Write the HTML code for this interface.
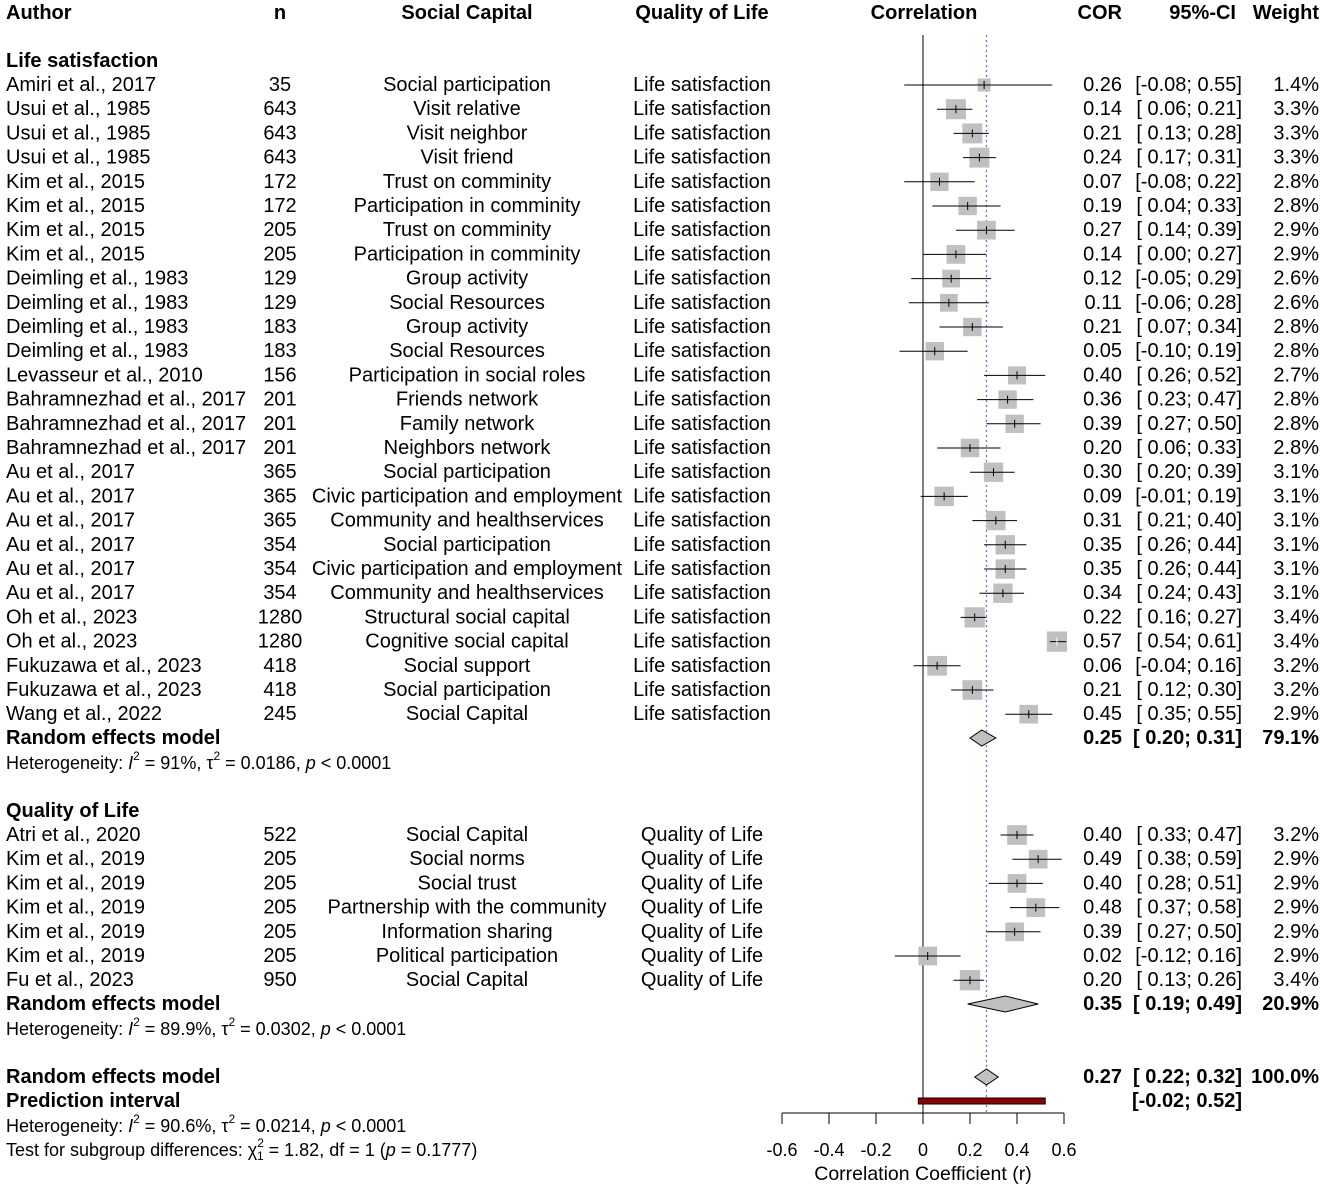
<!DOCTYPE html>
<html><head><meta charset="utf-8"><style>
body{margin:0;background:#fff;}
svg{display:block;font-family:"Liberation Sans",Arial,sans-serif;}
</style></head><body>
<svg id="plot" width="1325" height="1191" viewBox="0 0 1325 1191" xmlns="http://www.w3.org/2000/svg"></svg>
<script>
const authors1=["Amiri et al., 2017","Usui et al., 1985","Usui et al., 1985","Usui et al., 1985","Kim et al., 2015","Kim et al., 2015","Kim et al., 2015","Kim et al., 2015","Deimling et al., 1983","Deimling et al., 1983","Deimling et al., 1983","Deimling et al., 1983","Levasseur et al., 2010","Bahramnezhad et al., 2017","Bahramnezhad et al., 2017","Bahramnezhad et al., 2017","Au et al., 2017","Au et al., 2017","Au et al., 2017","Au et al., 2017","Au et al., 2017","Au et al., 2017","Oh et al., 2023","Oh et al., 2023","Fukuzawa et al., 2023","Fukuzawa et al., 2023","Wang  et al., 2022"];
const n1=[35,643,643,643,172,172,205,205,129,129,183,183,156,201,201,201,365,365,365,354,354,354,1280,1280,418,418,245];
const sc1=["Social participation","Visit relative","Visit neighbor","Visit friend","Trust on comminity","Participation in comminity","Trust on comminity","Participation in comminity","Group activity","Social Resources","Group activity","Social Resources","Participation in social roles","Friends network","Family network","Neighbors network","Social participation","Civic participation and employment","Community and healthservices","Social participation","Civic participation and employment","Community and healthservices","Structural social capital","Cognitive social capital","Social support","Social participation","Social Capital"];
const cor1=[0.26,0.14,0.21,0.24,0.07,0.19,0.27,0.14,0.12,0.11,0.21,0.05,0.40,0.36,0.39,0.20,0.30,0.09,0.31,0.35,0.35,0.34,0.22,0.57,0.06,0.21,0.45];
const lo1=[-0.08,0.06,0.13,0.17,-0.08,0.04,0.14,0.00,-0.05,-0.06,0.07,-0.10,0.26,0.23,0.27,0.06,0.20,-0.01,0.21,0.26,0.26,0.24,0.16,0.54,-0.04,0.12,0.35];
const hi1=[0.55,0.21,0.28,0.31,0.22,0.33,0.39,0.27,0.29,0.28,0.34,0.19,0.52,0.47,0.50,0.33,0.39,0.19,0.40,0.44,0.44,0.43,0.27,0.61,0.16,0.30,0.55];
const w1=[1.4,3.3,3.3,3.3,2.8,2.8,2.9,2.9,2.6,2.6,2.8,2.8,2.7,2.8,2.8,2.8,3.1,3.1,3.1,3.1,3.1,3.1,3.4,3.4,3.2,3.2,2.9];
const authors2=["Atri et al., 2020","Kim et al., 2019","Kim et al., 2019","Kim et al., 2019","Kim et al., 2019","Kim et al., 2019","Fu et al., 2023"];
const n2=[522,205,205,205,205,205,950];
const sc2=["Social Capital","Social norms","Social trust","Partnership with the community","Information sharing","Political participation","Social Capital"];
const cor2=[0.40,0.49,0.40,0.48,0.39,0.02,0.20];
const lo2=[0.33,0.38,0.28,0.37,0.27,-0.12,0.13];
const hi2=[0.47,0.59,0.51,0.58,0.50,0.16,0.26];
const w2=[3.2,2.9,2.9,2.9,2.9,2.9,3.4];
const reEst=[0.25,0.35,0.27];
const reLo=[0.20,0.19,0.22];
const reHi=[0.31,0.49,0.32];
const reW=["79.1%","20.9%","100.0%"];
const piRange=[-0.02,0.52];
const xTicks=[-0.6,-0.4,-0.2,0,0.2,0.4,0.6];

const svg=document.getElementById('plot');
const NS="http://www.w3.org/2000/svg";
const X=v=>923+v*235;
const f2=v=>v.toFixed(2);
const fci=v=>(v<0?"":" ")+v.toFixed(2);
function el(tag,attrs,name,txt){const e=document.createElementNS(NS,tag);for(const k in attrs)e.setAttribute(k,attrs[k]);
 
 
 if(txt!==undefined)e.textContent=txt;svg.appendChild(e);return e;}
function t(x,y,s,anchor,name,bold,size){return el('text',{x:x,y:y,'font-size':size||20,'text-anchor':anchor||'start','font-weight':bold?'bold':'normal',fill:'#000','dominant-baseline':'central'},name,s);}

// header
t(6,13,"Author","start","header-author",1);
t(280,13,"n","middle","header-n",1);
t(467,13,"Social Capital","middle","header-social-capital",1);
t(702,13,"Quality of Life","middle","header-quality-of-life",1);
t(924,13,"Correlation","middle","header-correlation",1);
t(1122,13,"COR","end","header-cor",1);
t(1236,13,"95%-CI","end","header-ci",1);
t(1319,13,"Weight","end","header-weight",1);

el('line',{x1:X(0),x2:X(0),y1:35,y2:1113,stroke:'#000','stroke-width':1},'zero-line');
el('line',{x1:X(reEst[2]),x2:X(reEst[2]),y1:35,y2:1113,stroke:'#a855f7','stroke-width':1.3,'stroke-dasharray':'2,3'},'overall-effect-line');

function study(y,a,n,sc,q,c,lo,hi,w){
 t(6,y,a,"start","study-author");
 t(280,y,String(n),"middle","study-n");
 t(467,y,sc,"middle","study-social-capital");
 t(702,y,q,"middle","study-outcome");
 const s=Math.sqrt(w)*11;
 el('rect',{x:X(c)-s/2,y:y-s/2,width:s,height:s,fill:'#c0c0c0'},'study-square');
 el('line',{x1:X(lo),x2:X(hi),y1:y,y2:y,stroke:'#000','stroke-width':1},'study-ci-line');
 const inside=(X(hi)-X(lo))<s;
 el('line',{x1:X(c),x2:X(c),y1:y-4,y2:y+4,stroke:inside?'#fff':'#000','stroke-width':1},'study-point');
 t(1122,y,f2(c),"end","study-cor");
 t(1242,y,"["+fci(lo)+"; "+fci(hi)+"]","end","study-ci");
 t(1319,y,w.toFixed(1)+"%","end","study-weight");
}
function diamond(y,i,label){
 t(6,y,label,"start","random-effects-label",1);
 el('polygon',{points:`${X(reLo[i])},${y} ${X(reEst[i])},${y-8} ${X(reHi[i])},${y} ${X(reEst[i])},${y+8}`,fill:'#c0c0c0',stroke:'#000','stroke-width':1},'random-effects-diamond');
 t(1122,y,f2(reEst[i]),"end","random-effects-cor",1);
 t(1242,y,"["+fci(reLo[i])+"; "+fci(reHi[i])+"]","end","random-effects-ci",1);
 t(1319,y,reW[i],"end","random-effects-weight",1);
}
function het(y,i2,tau,name){
 const e=el('text',{x:6,y:y,'font-size':18,'dominant-baseline':'central'},name);
 e.innerHTML=`Heterogeneity: <tspan font-style="italic">I</tspan><tspan dy="-7" font-size="12">2</tspan><tspan dy="7"> = ${i2}, τ</tspan><tspan dy="-7" font-size="12">2</tspan><tspan dy="7"> = ${tau}, </tspan><tspan font-style="italic">p</tspan> &lt; 0.0001`;
}
const dy=24.2;
t(6,61,"Life satisfaction","start","subgroup-life-satisfaction",1);
authors1.forEach((a,i)=>study(85+i*dy,a,n1[i],sc1[i],"Life satisfaction",cor1[i],lo1[i],hi1[i],w1[i]));
diamond(738,0,"Random effects model");
het(763,"91%","0.0186","heterogeneity-life-satisfaction");
t(6,811,"Quality of Life","start","subgroup-quality-of-life",1);
authors2.forEach((a,i)=>study(835+i*dy,a,n2[i],sc2[i],"Quality of Life",cor2[i],lo2[i],hi2[i],w2[i]));
diamond(1004,1,"Random effects model");
het(1029,"89.9%","0.0302","heterogeneity-quality-of-life");
diamond(1077,2,"Random effects model");
t(6,1101,"Prediction interval","start","prediction-interval-label",1);
el('rect',{x:X(piRange[0]),y:1098,width:X(piRange[1])-X(piRange[0]),height:6,fill:'#8b0000',stroke:'#000','stroke-width':1},'prediction-interval-bar');
t(1242,1101,"["+fci(piRange[0])+"; "+fci(piRange[1])+"]","end","prediction-interval-ci",1);
het(1126,"90.6%","0.0214","heterogeneity-overall");
const tt=el('text',{x:6,y:1150,'font-size':18,'dominant-baseline':'central'},'subgroup-difference-test');
tt.innerHTML='Test for subgroup differences: χ<tspan dy="-7" font-size="12">2</tspan><tspan dy="13" dx="-7" font-size="12">1</tspan><tspan dy="-6"> = 1.82, df = 1 (</tspan><tspan font-style="italic">p</tspan> = 0.1777)';

el('line',{x1:X(xTicks[0]),x2:X(xTicks[xTicks.length-1]),y1:1113,y2:1113,stroke:'#000'},'x-axis-line');
xTicks.forEach(v=>{
 el('line',{x1:X(v),x2:X(v),y1:1113,y2:1124,stroke:'#000'},'x-tick');
 t(X(v),1150,String(v),"middle","x-tick-label",0,18);
});
t(X(0),1174,"Correlation Coefficient (r)","middle","x-axis-title",0,19.5);
</script>
</body></html>
